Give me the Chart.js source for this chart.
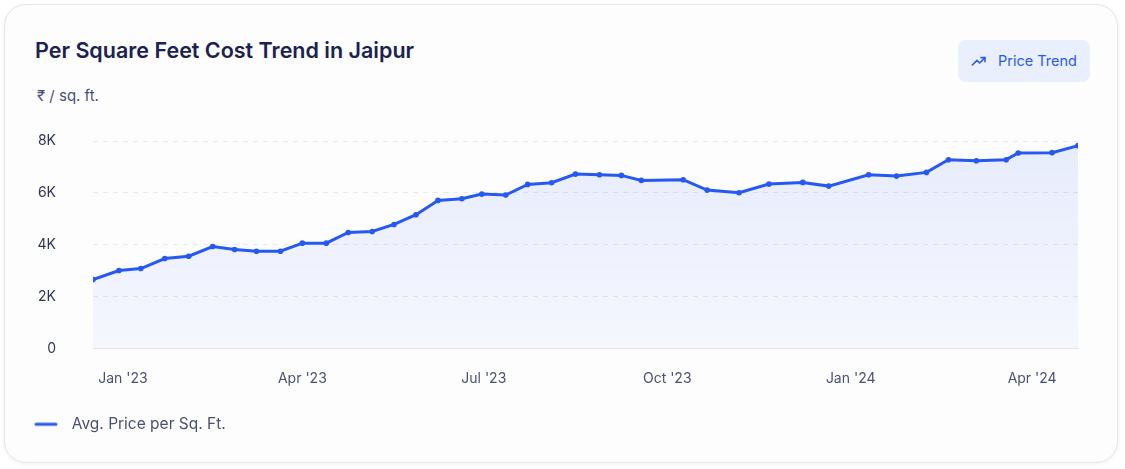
<!DOCTYPE html>
<html lang="en">
<head>
    <meta charset="UTF-8">
    <title>Per Square Feet Cost Trend in Jaipur</title>
    <script src="https://cdn.jsdelivr.net/npm/chart.js"></script>
    <style>
        html, body { margin: 0; padding: 0; background: #ffffff; }
        body { width: 1125px; height: 469px; position: relative; overflow: hidden; font-family: Inter, "Noto Sans", sans-serif; }
        .card {
            position: absolute; left: 4px; top: 4px; width: 1114px; height: 459px;
            box-sizing: border-box; border: 1px solid #e3e6ee; border-radius: 22px;
            background: #fdfdfe; box-shadow: 0 1px 4px rgba(30, 40, 80, 0.06);
        }
        .title {
            position: absolute; left: 35px; top: 35px; margin: 0;
            font-size: 21.5px; font-weight: 600; color: #1b2152; line-height: 30px;
        }
        .unit {
            position: absolute; left: 37px; top: 86px;
            font-size: 15px; color: #4a5073; line-height: 20px;
        }
        .btn {
            position: absolute; left: 958px; top: 40px; width: 132px; height: 42px;
            border-radius: 8px; background: #e9effc; color: #2d5bec;
            font-size: 14.5px; line-height: 42px; box-sizing: border-box; padding-left: 40px;
        }
        .btn svg { position: absolute; left: 13px; top: 13px; }
        #wrap { position: absolute; left: 24px; top: 125px; width: 1070px; height: 325px; }
    </style>
</head>
<body>
    <div class="card"></div>
    <h1 class="title">Per Square Feet Cost Trend in Jaipur</h1>
    <div class="unit">₹ / sq. ft.</div>
    <div class="btn">
        <svg width="16" height="16" viewBox="0 0 24 24" fill="none" stroke="#2d5bec" stroke-width="2.4" stroke-linecap="round" stroke-linejoin="round">
            <polyline points="2 18 9 11 13 15 21 7"></polyline>
            <polyline points="15 7 21 7 21 13"></polyline>
        </svg>
        Price Trend
    </div>
    <div id="wrap"><canvas id="trendChart"></canvas></div>

    <script>
        // values
        const dates = [
            '2022-12-17', '2022-12-30', '2023-01-10', '2023-01-22', '2023-02-03', '2023-02-15',
            '2023-02-26', '2023-03-09', '2023-03-21', '2023-04-01', '2023-04-13', '2023-04-24',
            '2023-05-06', '2023-05-17', '2023-05-28', '2023-06-08', '2023-06-20', '2023-06-30',
            '2023-07-12', '2023-07-23', '2023-08-04', '2023-08-16', '2023-08-28', '2023-09-08',
            '2023-09-18', '2023-10-09', '2023-10-21', '2023-11-06', '2023-11-21', '2023-12-08',
            '2023-12-21', '2024-01-10', '2024-01-24', '2024-02-08', '2024-02-19', '2024-03-04',
            '2024-03-19', '2024-03-25', '2024-04-11', '2024-04-24'
        ];
        const prices = [
            2660, 3007, 3084, 3470, 3559, 3933,
            3818, 3752, 3752, 4061, 4061, 4474,
            4512, 4783, 5157, 5709, 5775, 5952,
            5914, 6327, 6392, 6724, 6701, 6674,
            6481, 6508, 6107, 6006, 6338, 6404,
            6261, 6701, 6647, 6790, 7280, 7241,
            7280, 7535, 7550, 7820
        ];
        const tickDates = ['2023-01-01', '2023-04-01', '2023-07-01', '2023-10-01', '2024-01-01', '2024-04-01'];
        const tickLabels = ["Jan '23", "Apr '23", "Jul '23", "Oct '23", "Jan '24", "Apr '24"];
        const yTicks = [0, 2000, 4000, 6000, 8000];
        const yTickLabels = ['0', '2K', '4K', '6K', '8K'];

        const blue = '#2658f2';
        const textGrey = '#4a5073';

        // days since 1 Jan 2023, used as the x value
        const dayOf = d => (Date.parse(d) - Date.parse('2023-01-01')) / 86400000;
        const points = dates.map((d, i) => ({ x: dayOf(d), y: prices[i] }));

        // legend marker: short line with a gap after it
        const legendMark = document.createElement('canvas');
        legendMark.width = 30;
        legendMark.height = 6;
        const lm = legendMark.getContext('2d');
        lm.strokeStyle = blue;
        lm.lineWidth = 3;
        lm.lineCap = 'round';
        lm.beginPath();
        lm.moveTo(2, 3);
        lm.lineTo(22, 3);
        lm.stroke();

        Chart.defaults.font.family = 'Inter, "Noto Sans", sans-serif';
        Chart.defaults.font.size = 14;
        Chart.defaults.color = textGrey;

        var ctx = document.getElementById('trendChart').getContext('2d');

        var chart = new Chart(ctx, {
            type: 'line',
            data: {
                datasets: [{
                    label: 'Avg. Price per Sq. Ft.',
                    data: points,
                    borderColor: blue,
                    borderWidth: 3,
                    pointRadius: 2.8,
                    pointBackgroundColor: blue,
                    pointBorderWidth: 0,
                    tension: 0,
                    fill: 'origin',
                    backgroundColor: (c) => {
                        const area = c.chart.chartArea;
                        if (!area) return 'rgba(38, 88, 242, 0.06)';
                        const g = c.chart.ctx.createLinearGradient(0, area.top, 0, area.bottom);
                        g.addColorStop(0, 'rgba(38, 88, 242, 0.10)');
                        g.addColorStop(1, 'rgba(38, 88, 242, 0.035)');
                        return g;
                    }
                }]
            },
            options: {
                responsive: true,
                maintainAspectRatio: false,
                animation: false,
                layout: { padding: { left: 0, right: 16, top: 16, bottom: 8 } },
                scales: {
                    x: {
                        type: 'linear',
                        min: points[0].x,
                        max: points[points.length - 1].x,
                        afterBuildTicks: (s) => { s.ticks = tickDates.map(d => ({ value: dayOf(d) })); },
                        afterFit: (s) => { s.height = 58; },
                        grid: { display: false, drawTicks: false },
                        border: { display: true, color: '#e4e7ef', width: 1 },
                        ticks: {
                            autoSkip: false,
                            maxRotation: 0,
                            padding: 22,
                            color: textGrey,
                            callback: (v, i) => tickLabels[i]
                        }
                    },
                    y: {
                        min: 0,
                        max: 8000,
                        afterBuildTicks: (s) => { s.ticks = yTicks.map(v => ({ value: v })); },
                        // fixed width, and keep the big tick padding out of the top/bottom space
                        afterFit: (s) => { s.width = 69; s.paddingTop = 8; s.paddingBottom = 8; },
                        grid: {
                            drawTicks: false,
                            color: (c) => c.tick && c.tick.value === 0 ? 'rgba(0,0,0,0)' : '#e6e9f2',
                            lineWidth: 1
                        },
                        border: { display: false, dash: [5, 5] },
                        ticks: {
                            padding: 37,
                            color: '#2f3555',
                            callback: (v, i) => yTickLabels[i]
                        }
                    }
                },
                plugins: {
                    legend: {
                        position: 'bottom',
                        align: 'start',
                        labels: {
                            usePointStyle: true,
                            pointStyle: legendMark,
                            pointStyleWidth: 30,
                            color: textGrey,
                            padding: 10,
                            font: { size: 15.5 }
                        }
                    },
                    tooltip: { enabled: false }
                }
            }
        });
    </script>
</body>
</html>
